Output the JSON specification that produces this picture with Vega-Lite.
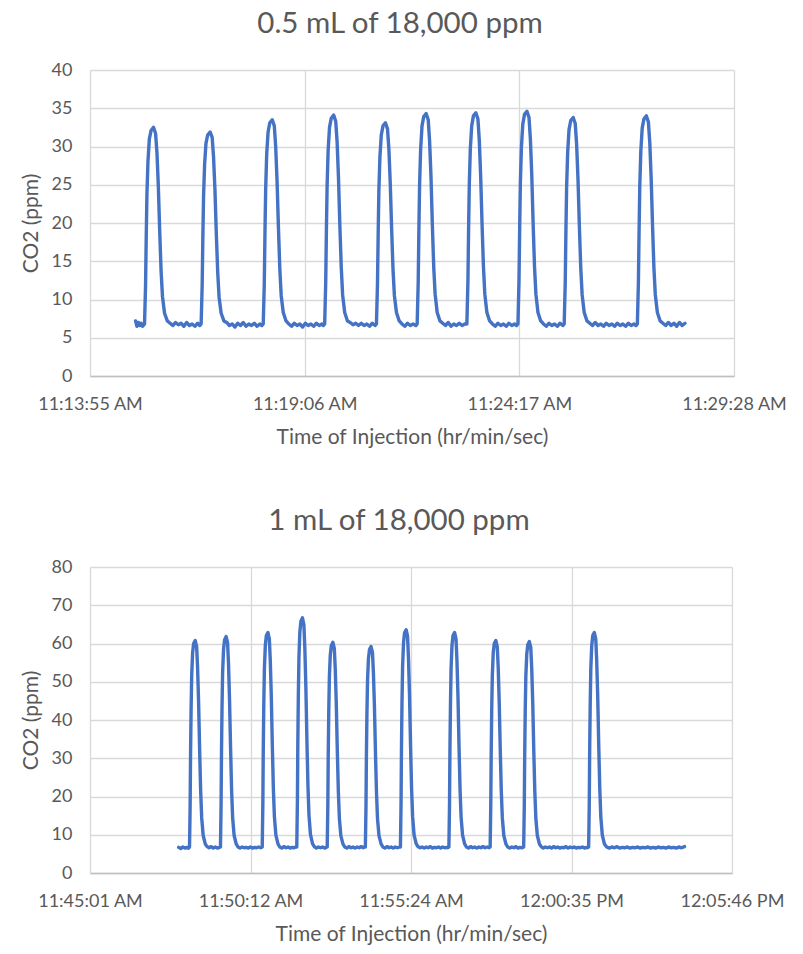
{
  "$schema": "https://vega.github.io/schema/vega-lite/v6.json",
  "description": "CO2 response peaks after repeated injections of 0.5 mL and 1 mL of 18,000 ppm.",
  "background": "white",
  "padding": {"left": 20, "top": 8, "right": 10, "bottom": 6},
  "bounds": "flush",
  "spacing": 191,
  "datasets": {
    "top": [
      {"t":40501,"v":7.2},{"t":40503,"v":6.5},{"t":40505,"v":7.0},{"t":40507,"v":6.6},{"t":40509,"v":6.9},{"t":40511,"v":6.5},{"t":40513,"v":6.7},
      {"t":40514,"v":6.8},{"t":40515.5,"v":11.9},{"t":40516.5,"v":18.4},{"t":40517.5,"v":23.8},{"t":40519,"v":28.1},{"t":40521,"v":31.0},{"t":40523.5,"v":32.1},{"t":40527,"v":32.5},{"t":40530,"v":31.7},{"t":40532,"v":29.2},{"t":40534,"v":24.8},{"t":40536,"v":18.9},{"t":40538,"v":13.7},{"t":40540,"v":10.4},{"t":40543,"v":8.2},{"t":40547,"v":7.2},
      {"t":40551,"v":6.9},{"t":40555,"v":6.6},{"t":40559,"v":7.0},{"t":40563,"v":6.7},{"t":40567,"v":6.9},{"t":40571,"v":6.5},{"t":40575,"v":7.0},{"t":40579,"v":6.6},{"t":40583,"v":6.8},{"t":40587,"v":6.5},{"t":40591,"v":6.9},{"t":40594,"v":6.6},
      {"t":40596,"v":6.8},{"t":40597.5,"v":11.8},{"t":40598.5,"v":18.1},{"t":40599.5,"v":23.4},{"t":40601,"v":27.6},{"t":40603,"v":30.4},{"t":40605.5,"v":31.5},{"t":40609,"v":31.9},{"t":40612,"v":31.2},{"t":40614,"v":28.6},{"t":40616,"v":24.4},{"t":40618,"v":18.6},{"t":40620,"v":13.6},{"t":40622,"v":10.3},{"t":40625,"v":8.2},{"t":40629,"v":7.2},
      {"t":40633,"v":7.0},{"t":40637,"v":6.6},{"t":40641,"v":6.8},{"t":40645,"v":6.4},{"t":40649,"v":6.9},{"t":40653,"v":6.6},{"t":40657,"v":7.0},{"t":40661,"v":6.5},{"t":40665,"v":6.8},{"t":40669,"v":6.6},{"t":40673,"v":6.9},{"t":40677,"v":6.5},{"t":40681,"v":6.8},{"t":40684,"v":6.6},
      {"t":40686,"v":6.8},{"t":40687.5,"v":12.1},{"t":40688.5,"v":18.8},{"t":40689.5,"v":24.4},{"t":40691,"v":29.0},{"t":40693,"v":31.9},{"t":40695.5,"v":33.1},{"t":40699,"v":33.5},{"t":40702,"v":32.7},{"t":40704,"v":30.0},{"t":40706,"v":25.5},{"t":40708,"v":19.4},{"t":40710,"v":14.0},{"t":40712,"v":10.5},{"t":40715,"v":8.3},{"t":40719,"v":7.2},
      {"t":40723,"v":6.8},{"t":40727,"v":6.5},{"t":40731,"v":6.9},{"t":40735,"v":6.6},{"t":40739,"v":6.8},{"t":40743,"v":6.4},{"t":40747,"v":6.9},{"t":40751,"v":6.6},{"t":40755,"v":6.8},{"t":40759,"v":6.5},{"t":40763,"v":6.9},{"t":40767,"v":6.6},{"t":40771,"v":6.8},{"t":40773,"v":6.6},
      {"t":40775,"v":6.8},{"t":40776.5,"v":12.3},{"t":40777.5,"v":19.1},{"t":40778.5,"v":24.8},{"t":40780,"v":29.5},{"t":40782,"v":32.5},{"t":40784.5,"v":33.7},{"t":40788,"v":34.1},{"t":40791,"v":33.3},{"t":40793,"v":30.6},{"t":40795,"v":25.9},{"t":40797,"v":19.6},{"t":40799,"v":14.2},{"t":40801,"v":10.6},{"t":40804,"v":8.3},{"t":40808,"v":7.2},
      {"t":40812,"v":7.0},{"t":40816,"v":6.7},{"t":40820,"v":6.9},{"t":40824,"v":6.6},{"t":40828,"v":6.9},{"t":40832,"v":6.6},{"t":40836,"v":6.8},{"t":40840,"v":6.5},{"t":40844,"v":6.9},{"t":40848,"v":6.6},
      {"t":40850,"v":6.8},{"t":40851.5,"v":12.1},{"t":40852.5,"v":18.6},{"t":40853.5,"v":24.2},{"t":40855,"v":28.6},{"t":40857,"v":31.5},{"t":40859.5,"v":32.7},{"t":40863,"v":33.1},{"t":40866,"v":32.3},{"t":40868,"v":29.7},{"t":40870,"v":25.2},{"t":40872,"v":19.2},{"t":40874,"v":13.9},{"t":40876,"v":10.5},{"t":40879,"v":8.3},{"t":40883,"v":7.2},
      {"t":40887,"v":6.8},{"t":40891,"v":6.5},{"t":40895,"v":6.9},{"t":40899,"v":6.6},{"t":40903,"v":6.8},{"t":40907,"v":6.6},
      {"t":40909,"v":6.8},{"t":40910.5,"v":12.3},{"t":40911.5,"v":19.2},{"t":40912.5,"v":25.0},{"t":40914,"v":29.6},{"t":40916,"v":32.7},{"t":40918.5,"v":33.9},{"t":40922,"v":34.3},{"t":40925,"v":33.5},{"t":40927,"v":30.7},{"t":40929,"v":26.1},{"t":40931,"v":19.7},{"t":40933,"v":14.2},{"t":40935,"v":10.7},{"t":40938,"v":8.3},{"t":40942,"v":7.2},
      {"t":40946,"v":6.9},{"t":40950,"v":6.6},{"t":40954,"v":7.0},{"t":40958,"v":6.5},{"t":40962,"v":6.8},{"t":40966,"v":6.6},{"t":40970,"v":6.9},{"t":40974,"v":6.6},{"t":40978,"v":6.8},
      {"t":40981,"v":6.8},{"t":40982.5,"v":12.3},{"t":40983.5,"v":19.2},{"t":40984.5,"v":25.0},{"t":40986,"v":29.7},{"t":40988,"v":32.7},{"t":40990.5,"v":34.0},{"t":40994,"v":34.4},{"t":40997,"v":33.6},{"t":40999,"v":30.8},{"t":41001,"v":26.1},{"t":41003,"v":19.8},{"t":41005,"v":14.3},{"t":41007,"v":10.7},{"t":41010,"v":8.3},{"t":41014,"v":7.2},
      {"t":41018,"v":6.8},{"t":41022,"v":6.5},{"t":41026,"v":6.9},{"t":41030,"v":6.6},{"t":41034,"v":6.8},{"t":41038,"v":6.5},{"t":41042,"v":6.9},{"t":41046,"v":6.6},{"t":41050,"v":6.8},{"t":41053,"v":6.6},
      {"t":41055,"v":6.8},{"t":41056.5,"v":12.4},{"t":41057.5,"v":19.3},{"t":41058.5,"v":25.2},{"t":41060,"v":29.9},{"t":41062,"v":32.9},{"t":41064.5,"v":34.2},{"t":41068,"v":34.6},{"t":41071,"v":33.8},{"t":41073,"v":31.0},{"t":41075,"v":26.3},{"t":41077,"v":19.9},{"t":41079,"v":14.3},{"t":41081,"v":10.7},{"t":41084,"v":8.3},{"t":41088,"v":7.2},
      {"t":41092,"v":6.8},{"t":41096,"v":6.5},{"t":41100,"v":6.9},{"t":41104,"v":6.6},{"t":41108,"v":6.8},{"t":41112,"v":6.5},{"t":41116,"v":6.9},{"t":41120,"v":6.6},
      {"t":41122,"v":6.8},{"t":41123.5,"v":12.2},{"t":41124.5,"v":19.0},{"t":41125.5,"v":24.6},{"t":41127,"v":29.2},{"t":41129,"v":32.2},{"t":41131.5,"v":33.4},{"t":41135,"v":33.8},{"t":41138,"v":33.0},{"t":41140,"v":30.3},{"t":41142,"v":25.7},{"t":41144,"v":19.5},{"t":41146,"v":14.1},{"t":41148,"v":10.6},{"t":41151,"v":8.3},{"t":41155,"v":7.2},
      {"t":41159,"v":6.9},{"t":41163,"v":6.6},{"t":41167,"v":7.0},{"t":41171,"v":6.6},{"t":41175,"v":6.8},{"t":41179,"v":6.5},{"t":41183,"v":6.9},{"t":41187,"v":6.6},{"t":41191,"v":6.8},{"t":41195,"v":6.5},{"t":41199,"v":6.9},{"t":41203,"v":6.6},{"t":41207,"v":6.8},{"t":41211,"v":6.5},{"t":41215,"v":6.9},{"t":41219,"v":6.6},{"t":41223,"v":6.8},{"t":41226,"v":6.6},
      {"t":41228,"v":6.8},{"t":41229.5,"v":12.2},{"t":41230.5,"v":19.0},{"t":41231.5,"v":24.8},{"t":41233,"v":29.4},{"t":41235,"v":32.4},{"t":41237.5,"v":33.6},{"t":41241,"v":34.0},{"t":41244,"v":33.2},{"t":41246,"v":30.5},{"t":41248,"v":25.8},{"t":41250,"v":19.6},{"t":41252,"v":14.1},{"t":41254,"v":10.6},{"t":41257,"v":8.3},{"t":41261,"v":7.2},
      {"t":41265,"v":6.9},{"t":41269,"v":6.6},{"t":41273,"v":7.0},{"t":41277,"v":6.6},{"t":41281,"v":6.9},{"t":41285,"v":6.5},{"t":41289,"v":7.0},{"t":41293,"v":6.6},{"t":41297,"v":6.9}
    ],
    "bottom": [
      {"t":42473,"v":6.7},{"t":42477,"v":6.4},{"t":42481,"v":6.8},{"t":42485,"v":6.5},{"t":42489,"v":6.7},{"t":42492,"v":6.5},
      {"t":42494,"v":6.8},{"t":42495.2,"v":17.6},{"t":42496,"v":31.1},{"t":42497,"v":42.4},{"t":42498.2,"v":51.6},{"t":42500,"v":57.6},{"t":42502,"v":60.0},{"t":42505,"v":60.8},{"t":42507.8,"v":59.2},{"t":42509.6,"v":53.8},{"t":42511.6,"v":44.6},{"t":42513.6,"v":32.2},{"t":42515.6,"v":21.4},{"t":42517.6,"v":14.4},{"t":42520.5,"v":9.8},{"t":42524.5,"v":7.6},
      {"t":42528,"v":6.9},{"t":42532,"v":6.6},{"t":42536,"v":6.9},{"t":42540,"v":6.5},{"t":42544,"v":6.8},{"t":42548,"v":6.5},{"t":42552,"v":6.7},
      {"t":42554,"v":6.8},{"t":42555.2,"v":17.8},{"t":42556,"v":31.6},{"t":42557,"v":43.1},{"t":42558.2,"v":52.5},{"t":42560,"v":58.5},{"t":42562,"v":61.0},{"t":42565,"v":61.8},{"t":42567.8,"v":60.2},{"t":42569.6,"v":54.7},{"t":42571.6,"v":45.3},{"t":42573.6,"v":32.7},{"t":42575.6,"v":21.7},{"t":42577.6,"v":14.5},{"t":42580.5,"v":9.8},{"t":42584.5,"v":7.6},
      {"t":42588,"v":6.8},{"t":42592,"v":6.5},{"t":42596,"v":6.8},{"t":42600,"v":6.6},{"t":42604,"v":6.7},{"t":42608,"v":6.5},{"t":42612,"v":6.8},{"t":42616,"v":6.5},{"t":42620,"v":6.7},{"t":42624,"v":6.6},{"t":42628,"v":6.8},{"t":42632,"v":6.6},
      {"t":42635,"v":6.8},{"t":42636.2,"v":18.0},{"t":42637,"v":32.1},{"t":42638,"v":43.8},{"t":42639.2,"v":53.4},{"t":42641,"v":59.5},{"t":42643,"v":62.1},{"t":42646,"v":62.9},{"t":42648.8,"v":61.2},{"t":42650.6,"v":55.6},{"t":42652.6,"v":46.1},{"t":42654.6,"v":33.2},{"t":42656.6,"v":22.0},{"t":42658.6,"v":14.7},{"t":42661.5,"v":9.9},{"t":42665.5,"v":7.6},
      {"t":42669,"v":6.8},{"t":42673,"v":6.5},{"t":42677,"v":6.9},{"t":42681,"v":6.6},{"t":42685,"v":6.8},{"t":42689,"v":6.5},{"t":42693,"v":6.7},{"t":42697,"v":6.6},{"t":42700,"v":6.8},
      {"t":42702,"v":6.8},{"t":42703.2,"v":18.8},{"t":42704,"v":33.8},{"t":42705,"v":46.3},{"t":42706.2,"v":56.5},{"t":42708,"v":63.1},{"t":42710,"v":65.8},{"t":42713,"v":66.7},{"t":42715.8,"v":64.9},{"t":42717.6,"v":58.9},{"t":42719.6,"v":48.7},{"t":42721.6,"v":35.0},{"t":42723.6,"v":23.0},{"t":42725.6,"v":15.2},{"t":42728.5,"v":10.1},{"t":42732.5,"v":7.7},
      {"t":42736,"v":6.9},{"t":42740,"v":6.5},{"t":42744,"v":6.8},{"t":42748,"v":6.6},{"t":42752,"v":6.8},{"t":42756,"v":6.5},{"t":42759,"v":6.7},
      {"t":42761,"v":6.8},{"t":42762.2,"v":17.5},{"t":42763,"v":30.9},{"t":42764,"v":42.1},{"t":42765.2,"v":51.2},{"t":42767,"v":57.1},{"t":42769,"v":59.5},{"t":42772,"v":60.3},{"t":42774.8,"v":58.7},{"t":42776.6,"v":53.4},{"t":42778.6,"v":44.3},{"t":42780.6,"v":32.0},{"t":42782.6,"v":21.3},{"t":42784.6,"v":14.3},{"t":42787.5,"v":9.7},{"t":42791.5,"v":7.6},
      {"t":42795,"v":6.8},{"t":42799,"v":6.5},{"t":42803,"v":6.9},{"t":42807,"v":6.6},{"t":42811,"v":6.8},{"t":42815,"v":6.5},{"t":42819,"v":6.8},{"t":42823,"v":6.6},{"t":42827,"v":6.9},{"t":42831,"v":6.6},{"t":42833,"v":6.8},
      {"t":42835,"v":6.8},{"t":42836.2,"v":17.3},{"t":42837,"v":30.4},{"t":42838,"v":41.4},{"t":42839.2,"v":50.3},{"t":42841,"v":56.1},{"t":42843,"v":58.4},{"t":42846,"v":59.2},{"t":42848.8,"v":57.6},{"t":42850.6,"v":52.4},{"t":42852.6,"v":43.5},{"t":42854.6,"v":31.4},{"t":42856.6,"v":21.0},{"t":42858.6,"v":14.1},{"t":42861.5,"v":9.7},{"t":42865.5,"v":7.6},
      {"t":42869,"v":6.8},{"t":42873,"v":6.5},{"t":42877,"v":6.9},{"t":42881,"v":6.6},{"t":42885,"v":6.8},{"t":42889,"v":6.5},{"t":42893,"v":6.8},{"t":42897,"v":6.6},{"t":42901,"v":6.8},
      {"t":42903,"v":6.8},{"t":42904.2,"v":18.2},{"t":42905,"v":32.4},{"t":42906,"v":44.3},{"t":42907.2,"v":53.9},{"t":42909,"v":60.2},{"t":42911,"v":62.8},{"t":42914,"v":63.6},{"t":42916.8,"v":61.9},{"t":42918.6,"v":56.2},{"t":42920.6,"v":46.6},{"t":42922.6,"v":33.5},{"t":42924.6,"v":22.1},{"t":42926.6,"v":14.8},{"t":42929.5,"v":9.9},{"t":42933.5,"v":7.7},
      {"t":42937,"v":6.9},{"t":42941,"v":6.6},{"t":42945,"v":6.8},{"t":42949,"v":6.5},{"t":42953,"v":6.8},{"t":42957,"v":6.6},{"t":42961,"v":6.9},{"t":42965,"v":6.5},{"t":42969,"v":6.7},{"t":42973,"v":6.6},{"t":42977,"v":6.8},{"t":42981,"v":6.5},{"t":42985,"v":6.8},{"t":42989,"v":6.6},{"t":42993,"v":6.7},{"t":42995,"v":6.6},
      {"t":42997,"v":6.8},{"t":42998.2,"v":18.0},{"t":42999,"v":32.1},{"t":43000,"v":43.8},{"t":43001.2,"v":53.4},{"t":43003,"v":59.5},{"t":43005,"v":62.1},{"t":43008,"v":62.9},{"t":43010.8,"v":61.2},{"t":43012.6,"v":55.6},{"t":43014.6,"v":46.1},{"t":43016.6,"v":33.2},{"t":43018.6,"v":22.0},{"t":43020.6,"v":14.7},{"t":43023.5,"v":9.9},{"t":43027.5,"v":7.6},
      {"t":43031,"v":6.8},{"t":43035,"v":6.5},{"t":43039,"v":6.9},{"t":43043,"v":6.6},{"t":43047,"v":6.8},{"t":43051,"v":6.5},{"t":43055,"v":6.8},{"t":43059,"v":6.6},{"t":43063,"v":6.9},{"t":43067,"v":6.6},{"t":43071,"v":6.8},{"t":43075,"v":6.6},
      {"t":43077,"v":6.8},{"t":43078.2,"v":17.6},{"t":43079,"v":31.1},{"t":43080,"v":42.4},{"t":43081.2,"v":51.6},{"t":43083,"v":57.6},{"t":43085,"v":60.0},{"t":43088,"v":60.8},{"t":43090.8,"v":59.2},{"t":43092.6,"v":53.8},{"t":43094.6,"v":44.6},{"t":43096.6,"v":32.2},{"t":43098.6,"v":21.4},{"t":43100.6,"v":14.4},{"t":43103.5,"v":9.8},{"t":43107.5,"v":7.6},
      {"t":43111,"v":6.8},{"t":43115,"v":6.5},{"t":43119,"v":6.8},{"t":43123,"v":6.6},{"t":43127,"v":6.9},{"t":43131,"v":6.5},{"t":43135,"v":6.7},{"t":43139,"v":6.6},
      {"t":43142,"v":6.8},{"t":43143.2,"v":17.5},{"t":43144,"v":31.0},{"t":43145,"v":42.2},{"t":43146.2,"v":51.4},{"t":43148,"v":57.3},{"t":43150,"v":59.7},{"t":43153,"v":60.5},{"t":43155.8,"v":58.9},{"t":43157.6,"v":53.5},{"t":43159.6,"v":44.4},{"t":43161.6,"v":32.0},{"t":43163.6,"v":21.3},{"t":43165.6,"v":14.3},{"t":43168.5,"v":9.8},{"t":43172.5,"v":7.6},
      {"t":43176,"v":6.9},{"t":43180,"v":6.5},{"t":43184,"v":6.8},{"t":43188,"v":6.6},{"t":43192,"v":6.8},{"t":43196,"v":6.5},{"t":43200,"v":6.9},{"t":43204,"v":6.6},{"t":43208,"v":6.8},{"t":43212,"v":6.5},{"t":43216,"v":6.7},{"t":43220,"v":6.6},{"t":43224,"v":6.9},{"t":43228,"v":6.5},{"t":43232,"v":6.8},{"t":43236,"v":6.6},{"t":43240,"v":6.8},{"t":43244,"v":6.5},{"t":43248,"v":6.7},{"t":43252,"v":6.6},{"t":43256,"v":6.8},{"t":43260,"v":6.5},{"t":43264,"v":6.7},{"t":43266,"v":6.6},
      {"t":43268,"v":6.8},{"t":43269.2,"v":18.0},{"t":43270,"v":32.1},{"t":43271,"v":43.8},{"t":43272.2,"v":53.4},{"t":43274,"v":59.5},{"t":43276,"v":62.1},{"t":43279,"v":62.9},{"t":43281.8,"v":61.2},{"t":43283.6,"v":55.6},{"t":43285.6,"v":46.1},{"t":43287.6,"v":33.2},{"t":43289.6,"v":22.0},{"t":43291.6,"v":14.7},{"t":43294.5,"v":9.9},{"t":43298.5,"v":7.6},
      {"t":43303,"v":6.8},{"t":43308,"v":6.5},{"t":43313,"v":6.8},{"t":43318,"v":6.6},{"t":43323,"v":6.9},{"t":43328,"v":6.5},{"t":43333,"v":6.7},{"t":43338,"v":6.6},{"t":43343,"v":6.8},{"t":43348,"v":6.5},{"t":43353,"v":6.7},{"t":43358,"v":6.6},{"t":43363,"v":6.8},{"t":43368,"v":6.5},{"t":43373,"v":6.7},{"t":43378,"v":6.6},{"t":43383,"v":6.8},{"t":43388,"v":6.5},{"t":43393,"v":6.7},{"t":43398,"v":6.5},{"t":43403,"v":6.8},{"t":43408,"v":6.6},{"t":43413,"v":6.7},{"t":43418,"v":6.5},{"t":43423,"v":6.8},{"t":43428,"v":6.6},{"t":43433,"v":6.7},{"t":43438,"v":6.5},{"t":43443,"v":6.8},{"t":43448,"v":6.6},{"t":43454,"v":6.9}
    ]
  },
  "vconcat": [
    {
      "data": {"name": "top"},
      "title": {"text": "0.5 mL of 18,000 ppm"},
      "width": 644,
      "height": 306,
      "mark": {"type": "line", "color": "#4472C4", "strokeWidth": 3.4, "strokeJoin": "round", "strokeCap": "round"},
      "encoding": {
        "x": {
          "field": "t",
          "type": "quantitative",
          "scale": {"domain": [40435, 41368], "nice": false, "zero": false},
          "axis": {
            "title": "Time of Injection (hr/min/sec)",
            "values": [40435, 40746, 41057, 41368],
            "labelExpr": "utcFormat(round(datum.value) * 1000, '%-I:%M:%S %p')"
          }
        },
        "y": {
          "field": "v",
          "type": "quantitative",
          "scale": {"domain": [0, 40], "nice": false},
          "axis": {"title": "CO2 (ppm)", "values": [0, 5, 10, 15, 20, 25, 30, 35, 40]}
        }
      }
    },
    {
      "data": {"name": "bottom"},
      "title": {"text": "1 mL of 18,000 ppm"},
      "width": 642,
      "height": 306,
      "mark": {"type": "line", "color": "#4472C4", "strokeWidth": 3.4, "strokeJoin": "round", "strokeCap": "round"},
      "encoding": {
        "x": {
          "field": "t",
          "type": "quantitative",
          "scale": {"domain": [42301, 43546], "nice": false, "zero": false},
          "axis": {
            "title": "Time of Injection (hr/min/sec)",
            "values": [42301, 42612.25, 42923.5, 43234.75, 43546],
            "labelExpr": "utcFormat(round(datum.value) * 1000, '%-I:%M:%S %p')"
          }
        },
        "y": {
          "field": "v",
          "type": "quantitative",
          "scale": {"domain": [0, 80], "nice": false},
          "axis": {"title": "CO2 (ppm)", "values": [0, 10, 20, 30, 40, 50, 60, 70, 80]}
        }
      }
    }
  ],
  "config": {
    "font": "Lato",
    "view": {"stroke": null},
    "title": {
      "fontSize": 29.5,
      "fontWeight": "normal",
      "color": "#595959",
      "anchor": "middle",
      "frame": "group",
      "baseline": "alphabetic",
      "offset": 22,
      "dx": -12
    },
    "axis": {
      "grid": true,
      "gridColor": "#d9d9d9",
      "gridWidth": 1.3,
      "ticks": false,
      "labelColor": "#595959",
      "labelFontSize": 18,
      "labelFlush": false,
      "labelOverlap": false,
      "labelBound": false,
      "titleColor": "#595959",
      "titleFontSize": 21,
      "titleFontWeight": "normal"
    },
    "axisX": {"domainColor": "#bfbfbf", "domainWidth": 1.5, "labelPadding": 19, "titlePadding": 13},
    "axisY": {"domain": false, "labelPadding": 18, "titlePadding": 10}
  }
}
